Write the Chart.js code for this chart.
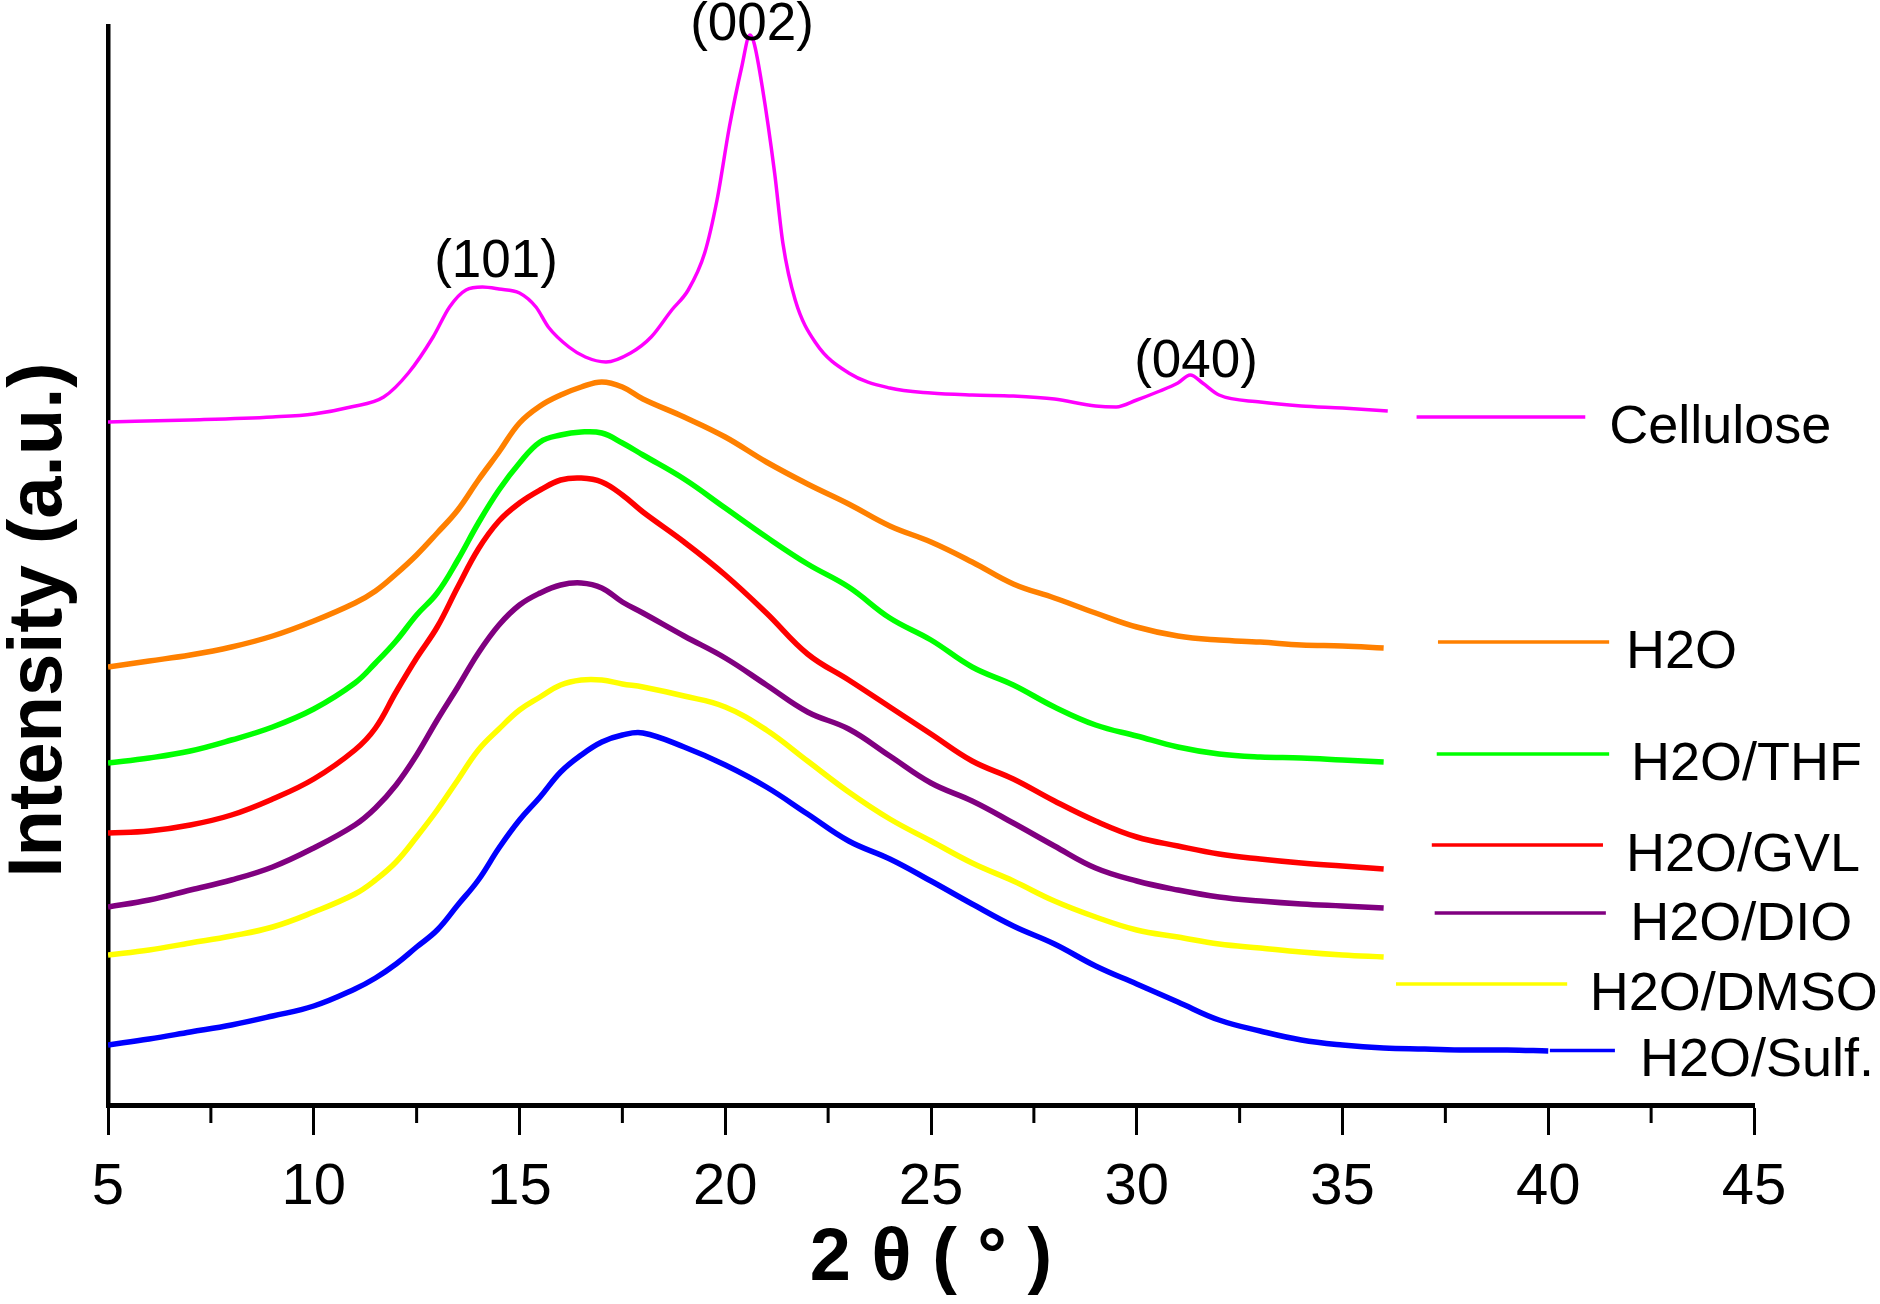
<!DOCTYPE html>
<html>
<head>
<meta charset="utf-8">
<script src="https://cdn.jsdelivr.net/npm/chart.js@4.4.1/dist/chart.umd.min.js"></script>
<style>
  html, body { margin: 0; padding: 0; background: #fff; }
  #wrap { width: 1880px; height: 1304px; }
</style>
</head>
<body>
<div id="wrap"><canvas id="xrd" width="1880" height="1304"></canvas></div>
<script>
// 2θ (degrees) for the treated samples
const twoTheta = [5, 6, 7, 8, 9, 10, 11, 11.5, 12, 12.5, 13, 13.5, 14, 14.5, 15, 15.5, 16, 16.5, 17, 17.5, 18,
  19, 20, 21, 22, 23, 24, 25, 26, 27, 28, 29, 30, 31, 32, 33, 34, 35, 36];
const sulfTheta = twoTheta.concat([37, 38, 39, 40]);

// intensities (a.u., stacked as drawn)
const h2o = [43.8, 44.4, 45.0, 45.8, 46.9, 48.4, 50.2, 51.4, 53.1, 55.0, 57.2, 59.5, 62.5, 65.3, 68.2, 69.9, 71.0, 71.8, 72.3, 71.8, 70.6,
  68.8, 66.8, 64.3, 62.1, 60.1, 57.9, 56.3, 54.3, 52.1, 50.7, 49.2, 47.8, 46.9, 46.5, 46.3, 46.0, 45.9, 45.7];
const h2oThf = [34.2, 34.7, 35.4, 36.5, 37.8, 39.6, 42.2, 44.2, 46.4, 49.0, 51.2, 54.5, 58.2, 61.5, 64.2, 66.3, 67.0, 67.3, 67.2, 66.2, 65.0,
  62.6, 59.7, 56.8, 54.1, 51.8, 48.7, 46.5, 43.8, 42.0, 39.8, 38.0, 36.9, 35.8, 35.1, 34.8, 34.7, 34.5, 34.3];
const h2oGvl = [27.2, 27.4, 28.0, 29.0, 30.6, 32.6, 35.5, 37.7, 41.3, 44.7, 47.8, 51.8, 55.6, 58.4, 60.2, 61.5, 62.5, 62.7, 62.3, 61.0, 59.3,
  56.3, 53.0, 49.2, 45.1, 42.5, 39.8, 37.1, 34.4, 32.6, 30.4, 28.4, 26.8, 25.9, 25.1, 24.6, 24.2, 23.9, 23.6];
const h2oDio = [19.8, 20.5, 21.5, 22.5, 23.8, 25.7, 28.0, 29.7, 32.0, 35.0, 38.5, 41.8, 45.2, 48.0, 50.0, 51.2, 52.0, 52.2, 51.7, 50.3, 49.2,
  46.9, 44.7, 42.0, 39.3, 37.6, 34.9, 32.2, 30.4, 28.2, 25.9, 23.7, 22.4, 21.5, 20.8, 20.4, 20.1, 19.9, 19.7];
const h2oDmso = [15.0, 15.5, 16.2, 16.9, 17.8, 19.3, 21.1, 22.5, 24.3, 26.8, 29.5, 32.5, 35.5, 37.6, 39.5, 40.8, 42.0, 42.5, 42.5, 42.1, 41.8,
  40.9, 39.8, 37.5, 34.4, 31.3, 28.6, 26.4, 24.2, 22.4, 20.4, 18.8, 17.5, 16.8, 16.1, 15.7, 15.3, 15.0, 14.8];
const h2oSulf = [6.0, 6.6, 7.3, 8.0, 8.9, 9.9, 11.6, 12.7, 14.1, 15.8, 17.5, 20.0, 22.5, 25.7, 28.5, 30.8, 33.3, 35.0, 36.3, 37.0, 37.2,
  35.8, 34.0, 31.8, 29.1, 26.4, 24.6, 22.4, 20.1, 17.9, 16.1, 13.9, 12.1, 10.3, 8.5, 7.4, 6.5, 6.0, 5.7,
  5.6, 5.5, 5.5, 5.4];

// cellulose has sharp peaks, so it gets its own 2θ list
const celluloseTheta = [5, 7, 9, 10, 10.9, 11.7, 12.3, 12.9, 13.3, 13.7, 14.1, 14.5, 15.0, 15.4, 15.7, 16.2, 16.6, 17.1, 17.7, 18.2,
  18.7, 19.1, 19.5, 19.8, 20.1, 20.4, 20.6, 20.7, 20.9, 21.2, 21.4, 21.7, 22.2, 23, 24, 25, 26, 27, 28, 29,
  29.5, 30, 30.5, 31, 31.3, 31.6, 32, 33, 34, 35, 36.1];
const cellulose = [68.3, 68.5, 68.8, 69.1, 69.8, 70.8, 73.2, 76.8, 79.8, 81.5, 81.8, 81.6, 81.2, 79.8, 77.8, 75.8, 74.8, 74.3, 75.2, 76.8,
  79.5, 81.5, 85.2, 90.5, 97.8, 103.8, 107.0, 106.2, 101.8, 93.2, 86.2, 80.5, 76.2, 73.2, 71.7, 71.2, 71.0, 70.9, 70.6, 69.9,
  69.8, 70.5, 71.3, 72.2, 73.0, 72.2, 71.0, 70.3, 69.9, 69.7, 69.4];

const seriesNames = ['Cellulose', 'H2O', 'H2O/THF', 'H2O/GVL', 'H2O/DIO', 'H2O/DMSO', 'H2O/Sulf.'];
const xTicks = [5, 10, 15, 20, 25, 30, 35, 40, 45];
const minorTicks = [7.5, 12.5, 17.5, 22.5, 27.5, 32.5, 37.5, 42.5];
const peakNames = ['(101)', '(002)', '(040)'];

// styles / placement (not data)
const colors = ['#ff00ff', '#ff8000', '#00ff00', '#ff0000', '#800080', '#ffff00', '#0000ff'];
const fontFamily = "'Liberation Sans', Arial, sans-serif";
// key line: from, to, level ; label: x, baseline
const keyLayout = [
  [36.8, 40.9, 68.8, 41.48, 66.25],
  [37.32, 41.48, 46.3, 41.89, 43.7],
  [37.29, 41.48, 35.1, 42.01, 32.55],
  [37.17, 41.33, 26.0, 41.89, 23.4],
  [37.24, 41.4, 19.2, 41.99, 16.5],
  [36.3, 40.46, 12.1, 41.01, 9.55],
  [40.04, 41.62, 5.45, 42.23, 2.9]
];
const peakLayout = [[14.43, 82.8], [20.65, 106.5], [31.44, 72.8]];

function toPoints(xs, ys) {
  return xs.map(function (x, i) { return { x: x, y: ys[i] }; });
}

const seriesX = [celluloseTheta, twoTheta, twoTheta, twoTheta, twoTheta, twoTheta, sulfTheta];
const seriesY = [cellulose, h2o, h2oThf, h2oGvl, h2oDio, h2oDmso, h2oSulf];

let datasets = [];
for (let i = 0; i < seriesNames.length; i++) {
  let ds = {
    label: seriesNames[i],
    data: toPoints(seriesX[i], seriesY[i]),
    borderColor: colors[i],
    borderWidth: i === 0 ? 3.5 : 5.5,
    pointRadius: 0,
    borderJoinStyle: 'round'
  };
  if (i === 0) {
    ds.cubicInterpolationMode = 'monotone';
  } else {
    ds.tension = 0.4;
  }
  datasets.push(ds);
  // short key line next to the curve end
  let k = keyLayout[i];
  datasets.push({
    label: '',
    data: [{ x: k[0], y: k[2] }, { x: k[1], y: k[2] }],
    borderColor: colors[i],
    borderWidth: 3.5,
    pointRadius: 0
  });
}

// labels, y title and minor ticks
const textPlugin = {
  id: 'xrdText',
  afterDraw: function (chart) {
    const ctx = chart.ctx;
    const xs = chart.scales.x;
    const ys = chart.scales.y;
    ctx.save();
    ctx.fillStyle = '#000';
    ctx.textBaseline = 'alphabetic';

    ctx.font = '54px ' + fontFamily;
    ctx.textAlign = 'left';
    for (let i = 0; i < seriesNames.length; i++) {
      let k = keyLayout[i];
      ctx.fillText(seriesNames[i], xs.getPixelForValue(k[3]), ys.getPixelForValue(k[4]));
    }

    ctx.font = '53px ' + fontFamily;
    ctx.textAlign = 'center';
    for (let i = 0; i < peakNames.length; i++) {
      let p = peakLayout[i];
      ctx.fillText(peakNames[i], xs.getPixelForValue(p[0]), ys.getPixelForValue(p[1]));
    }

    // minor ticks
    ctx.strokeStyle = '#000';
    ctx.lineWidth = 3;
    let bottom = chart.chartArea.bottom;
    minorTicks.forEach(function (v) {
      let px = xs.getPixelForValue(v);
      ctx.beginPath();
      ctx.moveTo(px, bottom);
      ctx.lineTo(px, bottom + 18);
      ctx.stroke();
    });

    // y axis title
    ctx.translate(40, 620);
    ctx.rotate(-Math.PI / 2);
    ctx.font = 'bold 76px ' + fontFamily;
    ctx.textAlign = 'center';
    ctx.textBaseline = 'middle';
    ctx.fillText('Intensity (a.u.)', 0, 0);
    ctx.restore();
  }
};

var ctx = document.getElementById('xrd').getContext('2d');
var myChart = new Chart(ctx, {
  type: 'line',
  data: { datasets: datasets },
  options: {
    responsive: false,
    animation: false,
    devicePixelRatio: 1,
    events: [],
    layout: { padding: { left: 0, right: 126, top: 26, bottom: 0 } },
    plugins: {
      legend: { display: false },
      tooltip: { enabled: false }
    },
    scales: {
      x: {
        type: 'linear',
        min: 5,
        max: 45,
        afterBuildTicks: function (scale) {
          scale.ticks = xTicks.map(function (v) { return { value: v }; });
        },
        afterFit: function (scale) { scale.height = 199; },
        ticks: {
          color: '#000',
          padding: 18,
          maxRotation: 0,
          autoSkip: false,
          font: { family: fontFamily, size: 58 }
        },
        grid: {
          display: true,
          drawOnChartArea: false,
          drawTicks: true,
          tickLength: 30,
          tickWidth: 3,
          tickColor: '#000'
        },
        border: { display: true, color: '#000', width: 5 },
        title: {
          display: true,
          text: '2 θ ( ° )',
          color: '#000',
          font: { family: fontFamily, size: 74, weight: 'bold' },
          padding: { top: 0, bottom: 0 }
        }
      },
      y: {
        type: 'linear',
        min: 0,
        max: 107.9,
        afterFit: function (scale) { scale.width = 108; },
        ticks: { display: false },
        grid: { display: false },
        border: { display: true, color: '#000', width: 4.5 }
      }
    }
  },
  plugins: [textPlugin]
});
</script>
</body>
</html>
